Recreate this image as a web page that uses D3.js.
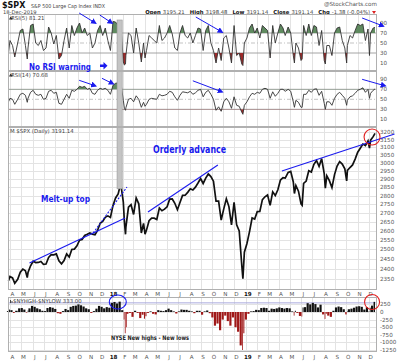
<!DOCTYPE html>
<html><head><meta charset="utf-8">
<script src="https://cdn.jsdelivr.net/npm/d3@7"></script>
<style>
body{margin:0;background:#fff}
svg{display:block}
text{font-family:"DejaVu Sans",Verdana,sans-serif}
</style>
</head><body><div id="chart"></div>
<script>
// weekly samples (plus a few intraweek extremes)
var dates = [
 "2017-03-27","2017-03-31",
 "2017-04-07","2017-04-13","2017-04-21","2017-04-28",
 "2017-05-05","2017-05-12","2017-05-17","2017-05-19","2017-05-26",
 "2017-06-02","2017-06-09","2017-06-16","2017-06-23","2017-06-30",
 "2017-07-07","2017-07-14","2017-07-21","2017-07-28",
 "2017-08-04","2017-08-11","2017-08-18","2017-08-25",
 "2017-09-01","2017-09-08","2017-09-15","2017-09-22","2017-09-29",
 "2017-10-06","2017-10-13","2017-10-20","2017-10-27",
 "2017-11-03","2017-11-10","2017-11-17","2017-11-24",
 "2017-12-01","2017-12-08","2017-12-15","2017-12-22","2017-12-29",
 "2018-01-05","2018-01-12","2018-01-19","2018-01-26",
 "2018-02-02","2018-02-05","2018-02-08","2018-02-09","2018-02-16","2018-02-23",
 "2018-03-02","2018-03-09","2018-03-16","2018-03-23","2018-03-29",
 "2018-04-02","2018-04-06","2018-04-13","2018-04-20","2018-04-27",
 "2018-05-04","2018-05-11","2018-05-18","2018-05-25",
 "2018-06-01","2018-06-08","2018-06-15","2018-06-22","2018-06-29",
 "2018-07-06","2018-07-13","2018-07-20","2018-07-27",
 "2018-08-03","2018-08-10","2018-08-17","2018-08-24","2018-08-31",
 "2018-09-07","2018-09-14","2018-09-21","2018-09-28",
 "2018-10-05","2018-10-12","2018-10-19","2018-10-26",
 "2018-11-02","2018-11-09","2018-11-16","2018-11-23","2018-11-30",
 "2018-12-07","2018-12-14","2018-12-21","2018-12-24","2018-12-28",
 "2019-01-04","2019-01-11","2019-01-18","2019-01-25",
 "2019-02-01","2019-02-08","2019-02-15","2019-02-22",
 "2019-03-01","2019-03-08","2019-03-15","2019-03-22","2019-03-29",
 "2019-04-05","2019-04-12","2019-04-18","2019-04-26",
 "2019-05-03","2019-05-10","2019-05-13","2019-05-17","2019-05-24","2019-05-31",
 "2019-06-03","2019-06-07","2019-06-14","2019-06-21","2019-06-28",
 "2019-07-05","2019-07-12","2019-07-19","2019-07-26",
 "2019-08-02","2019-08-05","2019-08-09","2019-08-16","2019-08-23","2019-08-30",
 "2019-09-06","2019-09-13","2019-09-20","2019-09-27",
 "2019-10-02","2019-10-04","2019-10-11","2019-10-18","2019-10-25",
 "2019-11-01","2019-11-08","2019-11-15","2019-11-22","2019-11-29",
 "2019-12-03","2019-12-06","2019-12-13","2019-12-18"
];

var closes = [
 2341, 2362,
 2355, 2329, 2348, 2384,
 2399, 2391, 2357, 2382, 2416,
 2439, 2432, 2433, 2438, 2423,
 2425, 2459, 2473, 2472,
 2477, 2441, 2426, 2443,
 2477, 2461, 2500, 2502, 2519,
 2549, 2553, 2575, 2581,
 2588, 2582, 2579, 2602,
 2642, 2652, 2675, 2683, 2674,
 2743, 2786, 2810, 2873,
 2762, 2649, 2581, 2620, 2732, 2747,
 2691, 2786, 2752, 2588, 2641,
 2582, 2604, 2656, 2670, 2670,
 2663, 2728, 2712, 2721,
 2735, 2779, 2780, 2755, 2718,
 2760, 2801, 2802, 2819,
 2840, 2833, 2850, 2875, 2902,
 2872, 2905, 2930, 2914,
 2886, 2767, 2768, 2659,
 2723, 2781, 2736, 2633, 2760,
 2633, 2600, 2417, 2351, 2486,
 2532, 2596, 2671, 2665,
 2707, 2708, 2776, 2793,
 2804, 2743, 2822, 2800, 2834,
 2893, 2907, 2905, 2940,
 2946, 2881, 2812, 2860, 2826, 2752,
 2744, 2873, 2887, 2950, 2942,
 2990, 3014, 2977, 3026,
 2932, 2844, 2919, 2889, 2847, 2926,
 2979, 3007, 2992, 2962,
 2888, 2952, 2970, 2986, 3023,
 3067, 3093, 3120, 3110, 3141,
 3094, 3146, 3169, 3191.14
];

var rsi5 = [
 30, 55,
 45, 22, 50, 75,
 78, 45, 18, 40, 85,
 88, 50, 45, 55, 35,
 40, 82, 70, 48,
 65, 18, 25, 55,
 80, 40, 85, 65, 80,
 90, 70, 80, 65,
 70, 40, 50, 75,
 85, 65, 80, 55, 35,
 93, 92, 85, 94,
 12, 6, 8, 25, 70, 65,
 30, 80, 50, 12, 50,
 20, 35, 65, 60, 55,
 50, 85, 55, 60,
 70, 85, 68, 40, 35,
 70, 85, 65, 60,
 70, 50, 65, 80, 78,
 35, 75, 85, 50,
 35, 10, 40, 15,
 60, 65, 40, 10, 85,
 25, 30, 8, 5, 50,
 60, 80, 88, 70,
 80, 60, 85, 80,
 75, 20, 85, 50, 70,
 88, 80, 65, 82,
 70, 25, 10, 50, 40, 15,
 18, 85, 65, 88, 65,
 85, 82, 45, 75,
 15, 8, 45, 45, 25, 70,
 80, 82, 55, 40,
 10, 45, 65, 60, 75,
 88, 85, 88, 55, 78,
 25, 70, 80, 81.21
];

var rsi14 = [
 45, 52,
 50, 40, 50, 60,
 62, 58, 44, 52, 64,
 68, 60, 58, 60, 50,
 52, 66, 68, 62,
 64, 42, 40, 50,
 60, 52, 68, 66, 70,
 76, 74, 76, 70,
 72, 62, 60, 68,
 72, 70, 72, 68, 60,
 78, 82, 83, 86,
 48, 32, 28, 33, 50, 52,
 45, 57, 50, 34, 44,
 36, 40, 50, 52, 51,
 50, 60, 57, 58,
 60, 66, 64, 55, 48,
 58, 65, 64, 63,
 66, 60, 63, 68, 70,
 55, 64, 68, 60,
 50, 28, 35, 26,
 45, 52, 45, 32, 55,
 38, 36, 24, 20, 38,
 45, 55, 62, 60,
 64, 62, 70, 72,
 70, 52, 65, 56, 62,
 70, 70, 66, 70,
 66, 45, 34, 48, 44, 34,
 34, 60, 60, 68, 64,
 70, 71, 58, 66,
 42, 30, 45, 45, 38, 52,
 60, 64, 58, 52,
 38, 48, 55, 57, 62,
 68, 70, 73, 64, 70,
 52, 62, 68, 70.68
];

var nhnl = [
 30, 80,
 60, -30, 40, 120,
 130, 80, -20, 50, 120,
 200, 170, 120, 90, 40,
 30, 130, 160, 140,
 100, -40, -60, 30,
 100, 60, 170, 200, 210,
 250, 220, 180, 120,
 90, -30, 30, 110,
 200, 170, 120, 160, 140,
 300, 330, 280, 340,
 60, -250, -700, -500, -60, -30,
 -160, 40, -30, -200, -90,
 -220, -140, -30, 20, -60,
 -80, 60, 40, 30,
 60, 110, 60, 20, -50,
 20, 80, 70, 70,
 40, 20, -40, 40, 40,
 -90, 20, 50, -40,
 -180, -450, -380, -600,
 -250, -120, -300, -450, -180,
 -500, -650, -1100, -1250, -700,
 -250, -60, 20, 30,
 70, 60, 130, 140,
 130, 40, 110, 100, 120,
 150, 130, 110, 130,
 120, 20, -120, 40, -30, -130,
 -150, 150, 160, 290, 250,
 300, 260, 150, 240,
 -80, -230, -60, -120, -160, 40,
 150, 180, 160, 90,
 -80, 20, 90, 110, 140,
 180, 190, 170, 80, 160,
 20, 140, 210, 333
];

var priceTicks = [2350,2400,2450,2500,2550,2600,2650,2700,2750,2800,2850,2900,2950,3000,3050,3100,3150,3200];
var rsiTicks = [90,70,50,30,10];
var histTicks = [250,0,-250,-500,-750,-1000,-1250];
var quote = [["Open","3195.21"],["High","3198.48"],["Low","3191.14"],["Close","3191.14"],["Chg","-1.38 (-0.04%)"]];

// annotations, in date / value terms
var trendLines = [
 {a:["2017-05-23",2430], b:["2018-02-07",2671], dash:false},
 {a:["2017-11-12",2588], b:["2018-02-12",2851], dash:true},
 {a:["2018-04-10",2705], b:["2018-10-17",2986], dash:false},
 {a:["2019-04-09",2948], b:["2020-02-09",3187], dash:false}
];
var rsi5Arrows = [
 [["2017-10-05",110],["2017-11-18",90]],
 [["2017-11-30",106],["2018-01-02",90]],
 [["2018-08-18",102],["2018-10-28",72]],
 [["2019-11-13",100],["2020-01-09",84]]
];
var rsi14Arrows = [
 [["2017-10-05",88],["2017-11-18",77]],
 [["2017-12-06",92],["2018-01-05",81]],
 [["2018-08-10",87],["2018-10-28",65]],
 [["2019-11-13",90],["2020-01-14",77]]
];
var topBand = ["2018-01-16","2018-01-30"];

var W = 400, H = 362;
var left = 8, right = 377;
var parse = d3.timeParse("%Y-%m-%d");
var dd = dates.map(parse);
var idx = d3.range(dates.length);

var x = d3.scaleTime()
  .domain([parse("2017-03-27"), parse("2019-12-18")])
  .range([8.5, 375]);

var yR5 = d3.scaleLinear().domain([0,100]).range([68,18]);
var yR14 = d3.scaleLinear().domain([0,100]).range([124.3,74.3]);
var yP = d3.scaleLog().domain([2296,3234]).range([290,127]);
var yH = d3.scaleLinear().domain([-1316,493]).range([352,297]);

var svg = d3.select("#chart").append("svg")
  .attr("width", W).attr("height", H);
var defs = svg.append("defs");
defs.append("marker").attr("id","ah")
  .attr("viewBox","0 0 10 10").attr("refX",7).attr("refY",5)
  .attr("markerWidth",6).attr("markerHeight",6).attr("markerUnits","userSpaceOnUse").attr("orient","auto")
  .append("path").attr("d","M0,0L10,5L0,10z").attr("fill","#1a1aee");

var months = d3.timeMonth.range(parse("2017-04-01"), parse("2019-12-19"));

function panelFrame(top, bottom) {
  var g = svg.append("g");
  g.append("rect").attr("x",left).attr("y",top).attr("width",right-left).attr("height",bottom-top)
    .attr("fill","#fff");
  g.selectAll(".vg").data(months).enter().append("line")
    .attr("x1",d=>Math.round(x(d))+0.5).attr("x2",d=>Math.round(x(d))+0.5)
    .attr("y1",top).attr("y2",bottom)
    .attr("stroke","#e3e3e3").attr("stroke-width",1);
  return g;
}
function frameBorder(top, bottom) {
  svg.append("rect").attr("x",left+0.5).attr("y",top+0.5)
    .attr("width",right-left-1).attr("height",bottom-top-1)
    .attr("fill","none").attr("stroke","#b0b0b0");
}

////////////////////////// header //////////////////////////
svg.append("text").attr("x",2).attr("y",8).attr("font-size",8).attr("font-weight","bold")
  .attr("fill","#111").text("$SPX");
svg.append("text").attr("x",31).attr("y",8).attr("font-size",5.4).attr("fill","#444")
  .attr("textLength",74).attr("lengthAdjust","spacingAndGlyphs")
  .text("S&P 500 Large Cap Index  INDX");
svg.append("text").attr("x",3).attr("y",14).attr("font-size",5.2).attr("fill","#444")
  .text("18-Dec-2019");
svg.append("text").attr("x",377).attr("y",6).attr("font-size",5.6).attr("fill","#555")
  .attr("text-anchor","end").text("@StockCharts.com");

// quote line: label / value pieces laid out one after another, ending at x = 370
var qg = svg.append("g");
var pieces = [];
quote.forEach(function(q){
  pieces.push(qg.append("text").attr("y",13.5).attr("font-size",5.3).attr("font-weight","bold")
    .attr("fill","#111").text(q[0]));
  pieces.push(qg.append("text").attr("y",13.5).attr("font-size",5.3)
    .attr("fill","#444").text(q[1]));
});
var widths = pieces.map(p=>p.node().getComputedTextLength());
var gaps = pieces.map((p,i)=> i%2===0 ? 2 : 5);
var total = d3.sum(widths) + d3.sum(gaps.slice(0,-1));
var cx = 370 - total;
pieces.forEach(function(p,i){ p.attr("x",cx); cx += widths[i] + gaps[i]; });
svg.append("path").attr("d","M372,11L376,11L374,14z").attr("fill","#d22");

////////////////////////// RSI panels //////////////////////////
function rsiPanel(vals, ys, top, bottom, name, label) {
  var g = panelFrame(top, bottom);
  // guide lines
  [70,30].forEach(function(v){
    g.append("line").attr("x1",left).attr("x2",right).attr("y1",ys(v)).attr("y2",ys(v))
      .attr("stroke","#9a9a9a").attr("stroke-width",0.9);
  });
  g.append("line").attr("x1",left).attr("x2",right).attr("y1",ys(50)).attr("y2",ys(50))
    .attr("stroke","#aaa").attr("stroke-width",0.7).attr("stroke-dasharray","4,2,1,2");

  defs.append("clipPath").attr("id",name+"hi").append("rect")
    .attr("x",left).attr("y",top).attr("width",right-left).attr("height",ys(70)-top);
  defs.append("clipPath").attr("id",name+"lo").append("rect")
    .attr("x",left).attr("y",ys(30)).attr("width",right-left).attr("height",bottom-ys(30));

  var areaHi = d3.area().x(i=>x(dd[i])).y0(ys(70)).y1(i=>ys(vals[i]));
  var areaLo = d3.area().x(i=>x(dd[i])).y0(ys(30)).y1(i=>ys(vals[i]));
  g.append("path").datum(idx).attr("d",areaHi).attr("fill","#5f8a5f")
    .attr("clip-path","url(#"+name+"hi)");
  g.append("path").datum(idx).attr("d",areaLo).attr("fill","#9e2a2a")
    .attr("clip-path","url(#"+name+"lo)");
  g.append("path").datum(idx)
    .attr("d", d3.line().x(i=>x(dd[i])).y(i=>ys(vals[i])))
    .attr("fill","none").attr("stroke","#333").attr("stroke-width",0.9);

  g.selectAll(".tk").data(rsiTicks).enter().append("text")
    .attr("x",380).attr("y",d=>ys(d)+2).attr("font-size",5.6).attr("fill","#555")
    .text(d=>d);
  g.append("text").attr("x",11).attr("y",top+5.5).attr("font-size",5.4).attr("fill","#444")
    .text(label);
  g.append("path").attr("d","M"+(left+1)+","+(top+5.5)+"l1.5,-3l1,1.5l1,-1l0,2.5z").attr("fill","#333");
}
rsiPanel(rsi5, yR5, 14, 71, "r5", "RSI(5) 81.21");
rsiPanel(rsi14, yR14, 71, 127, "r14", "RSI(14) 70.68");

////////////////////////// price panel //////////////////////////
var gp = panelFrame(127, 290);
gp.selectAll(".hg").data(priceTicks).enter().append("line")
  .attr("x1",left).attr("x2",right).attr("y1",d=>Math.round(yP(d))+0.5).attr("y2",d=>Math.round(yP(d))+0.5)
  .attr("stroke","#e3e3e3");
gp.selectAll(".pt").data(priceTicks).enter().append("text")
  .attr("x",380).attr("y",d=>yP(d)+2).attr("font-size",5.6).attr("fill","#555").text(d=>d);
gp.append("text").attr("x",10).attr("y",133).attr("font-size",5.4).attr("fill","#444")
  .text("M $SPX (Daily) 3191.14");

// grey band marking the Jan 2018 top
svg.append("rect").attr("x",x(parse(topBand[0]))).attr("y",20)
  .attr("width",x(parse(topBand[1]))-x(parse(topBand[0]))).attr("height",yP(2840)-20)
  .attr("fill","#c4c4c4").attr("stroke","#999").attr("stroke-width",0.6);

gp.append("path").datum(idx)
  .attr("d", d3.line().x(i=>x(dd[i])).y(i=>yP(closes[i])))
  .attr("fill","none").attr("stroke","#111").attr("stroke-width",1.7).attr("stroke-linejoin","miter");

////////////////////////// new highs - new lows //////////////////////////
var gh = panelFrame(297, 352);
gh.selectAll(".hg").data(histTicks).enter().append("line")
  .attr("x1",left).attr("x2",right).attr("y1",d=>Math.round(yH(d))+0.5).attr("y2",d=>Math.round(yH(d))+0.5)
  .attr("stroke","#e3e3e3");
gh.append("line").attr("x1",left).attr("x2",right).attr("y1",yH(300)).attr("y2",yH(300))
  .attr("stroke","#a9a9dd").attr("stroke-width",1);
gh.selectAll(".bar").data(idx).enter().append("rect")
  .attr("x", function(i){ var x0 = i>0 ? x(dd[i-1]) : x(dd[i])-2; return x0 + 0.4; })
  .attr("width", function(i){ var x0 = i>0 ? x(dd[i-1]) : x(dd[i])-2; return Math.max(0.8, x(dd[i])-x0-0.4); })
  .attr("y", i=>Math.min(yH(0), yH(nhnl[i])))
  .attr("height", i=>Math.abs(yH(nhnl[i])-yH(0)))
  .attr("fill", i=>nhnl[i]>=0 ? "#111" : "#a01818");
gh.selectAll(".ht").data(histTicks).enter().append("text")
  .attr("x",380).attr("y",d=>yH(d)+2).attr("font-size",5.6).attr("fill","#555").text(d=>d);
gh.append("text").attr("x",13).attr("y",302.5).attr("font-size",5.4).attr("fill","#444")
  .text("$NYHGH-$NYLOW 333.00");
gh.append("path").attr("d","M9,303h1v-3h0.8v3h0.8v-2h0.8v2z").attr("fill","#222");

frameBorder(14, 71);
frameBorder(71, 127);
frameBorder(127, 290);
frameBorder(297, 352);

////////////////////////// month labels //////////////////////////
function monthLabels(yy) {
  svg.selectAll(null).data(months).enter().append("text")
    .attr("x", d=>x(d)+2).attr("y", yy).attr("text-anchor","middle")
    .attr("font-size",5.6)
    .attr("font-weight", d=>d.getMonth()===0 ? "bold" : "normal")
    .attr("fill", d=>d.getMonth()===0 ? "#111" : "#555")
    .text(d=>d.getMonth()===0 ? d3.timeFormat("%y")(d) : d3.timeFormat("%b")(d).charAt(0));
}
monthLabels(295.5);
monthLabels(359);

////////////////////////// annotations //////////////////////////
var blue = "#1a1aee";
trendLines.forEach(function(t){
  svg.append("line")
    .attr("x1",x(parse(t.a[0]))).attr("y1",yP(t.a[1]))
    .attr("x2",x(parse(t.b[0]))).attr("y2",yP(t.b[1]))
    .attr("stroke",blue).attr("stroke-width",1.1)
    .attr("stroke-dasharray", t.dash ? "2,1.5" : null);
});
function drawArrows(list, ys) {
  list.forEach(function(a){
    svg.append("line")
      .attr("x1",x(parse(a[0][0]))).attr("y1",ys(a[0][1]))
      .attr("x2",x(parse(a[1][0]))).attr("y2",ys(a[1][1]))
      .attr("stroke",blue).attr("stroke-width",1).attr("marker-end","url(#ah)");
  });
}
drawArrows(rsi5Arrows, yR5);
drawArrows(rsi14Arrows, yR14);

function note(txt, x0, y0, size, len, col) {
  svg.append("text").attr("x",x0).attr("y",y0).attr("font-family","Liberation Sans, Arial")
    .attr("font-size",size).attr("font-weight","bold").attr("fill",col)
    .attr("textLength",len).attr("lengthAdjust","spacingAndGlyphs").text(txt);
}
note("No RSI warning", 29, 70, 9, 62, blue);
svg.append("path").attr("d","M100,64.5h3.5v-2.5l4,3.8l-4,3.8v-2.5h-3.5z").attr("fill",blue);
note("Orderly advance", 153, 152.5, 10, 73, blue);
note("Melt-up top", 41, 202, 9, 49, blue);
note("NYSE New highs - New lows", 111, 340, 6.3, 78, "#222");

// circles
svg.append("circle").attr("cx",x(parse("2019-12-10"))).attr("cy",yP(3167)).attr("r",8)
  .attr("fill","none").attr("stroke","#e02020").attr("stroke-width",1.1);
svg.append("circle").attr("cx",x(parse("2019-12-10"))).attr("cy",yH(329)).attr("r",7.5)
  .attr("fill","none").attr("stroke","#e02020").attr("stroke-width",1.1);
svg.append("ellipse").attr("cx",x(parse("2018-01-18"))).attr("cy",yH(329)).attr("rx",8.5).attr("ry",7)
  .attr("fill","none").attr("stroke",blue).attr("stroke-width",1.1);
</script>
</body></html>
